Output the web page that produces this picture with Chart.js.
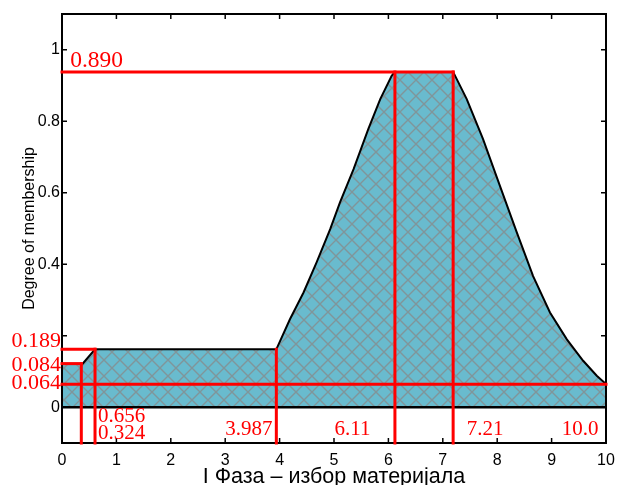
<!DOCTYPE html>
<html>
<head>
<meta charset="utf-8">
<script src="https://cdn.jsdelivr.net/npm/chart.js@4.4.1/dist/chart.umd.min.js"></script>
<style>
    html, body { margin: 0; padding: 0; background: #fff; }
    #wrap { width: 619px; height: 485px; }
</style>
</head>
<body>
<div id="wrap"><canvas id="fazaChart"></canvas></div>
<script>
// membership function of the first phase
const memX = [0, 0.38, 0.607, 3.94, 4.19, 4.44, 4.68, 4.93, 5.11, 5.36, 5.63, 5.85, 6.06, 6.12,
    7.19, 7.44, 7.74, 8.05, 8.36, 8.66, 8.97, 9.28, 9.58, 9.83, 10];
const memY = [0.122, 0.122, 0.162, 0.162, 0.246, 0.321, 0.405, 0.498, 0.573, 0.666, 0.778, 0.862, 0.927, 0.938,
    0.938, 0.862, 0.750, 0.619, 0.489, 0.367, 0.265, 0.190, 0.130, 0.088, 0.065];

// horizontal cut lines: level and where they stop
const cutLevels = [0.938, 0.162, 0.122, 0.064];
const cutEnds = [7.19, 0.607, 0.355, 10];

// vertical projections down to the axis
const projX = [0.355, 0.607, 3.94, 6.12, 7.19];
const projTop = [0.122, 0.162, 0.162, 0.938, 0.938];

const xTicks = [0, 1, 2, 3, 4, 5, 6, 7, 8, 9, 10];
const yTicks = [0, 0.2, 0.4, 0.6, 0.8, 1];
const yTickLabels = ['0', '', '0.4', '0.6', '0.8', '1'];

const Y_MIN = -0.1;
const Y_MAX = 1.1;

// red value labels (text, anchor in data units, alignment, font size)
const valueLabels = [
    { text: '0.890', x: 0.15, y: 0.951, align: 'left', size: 23.5 },
    { text: '0.189', x: -0.02, y: 0.168, align: 'right', size: 22 },
    { text: '0.084', x: -0.02, y: 0.101, align: 'right', size: 22 },
    { text: '0.064', x: -0.02, y: 0.050, align: 'right', size: 22 },
    { text: '0.656', x: 0.66, y: -0.042, align: 'left', size: 21 },
    { text: '0.324', x: 0.66, y: -0.0895, align: 'left', size: 21 },
    { text: '3.987', x: 3.87, y: -0.078, align: 'right', size: 21 },
    { text: '6.11', x: 5.67, y: -0.078, align: 'right', size: 21 },
    { text: '7.21', x: 7.44, y: -0.078, align: 'left', size: 21 },
    { text: '10.0', x: 9.86, y: -0.078, align: 'right', size: 21 }
];

const makeHatch = () => {
    const tile = document.createElement('canvas');
    tile.width = 16;
    tile.height = 16;
    const t = tile.getContext('2d');
    t.fillStyle = '#69bbce';
    t.fillRect(0, 0, 16, 16);
    t.strokeStyle = '#80959a';
    t.lineWidth = 1.4;
    t.beginPath();
    t.moveTo(-2, -2); t.lineTo(18, 18);
    t.moveTo(18, -2); t.lineTo(-2, 18);
    t.stroke();
    return t.createPattern(tile, 'repeat');
};

const redLine = (pts) => ({
    data: pts,
    showLine: true,
    borderColor: '#ff0000',
    borderWidth: 3,
    borderCapStyle: 'square',
    pointRadius: 0,
    fill: false,
    clip: false,
    order: 1
});

const datasets = [
    {
        data: memX.map((x, i) => ({ x: x, y: memY[i] })),
        showLine: true,
        borderColor: '#000',
        borderWidth: 2,
        backgroundColor: makeHatch(),
        fill: 'origin',
        pointRadius: 0,
        order: 3
    },
    {
        data: [{ x: 0, y: 0 }, { x: 10, y: 0 }],
        showLine: true,
        borderColor: '#000',
        borderWidth: 2.5,
        pointRadius: 0,
        order: 2
    }
];
cutLevels.forEach((lvl, i) => {
    datasets.push(redLine([{ x: 0, y: lvl }, { x: cutEnds[i], y: lvl }]));
});
projX.forEach((x, i) => {
    datasets.push(redLine([{ x: x, y: projTop[i] }, { x: x, y: Y_MIN }]));
});

const framePlugin = {
    id: 'frame',
    afterDatasetDraw(chart, args) {
        if (args.index !== 0) return;
        const ctx = chart.ctx;
        const { left, right, top, bottom } = chart.chartArea;
        const xs = chart.scales.x;
        const ys = chart.scales.y;
        const seg = (x1, y1, x2, y2) => {
            ctx.beginPath();
            ctx.moveTo(x1, y1);
            ctx.lineTo(x2, y2);
            ctx.stroke();
        };
        ctx.save();
        ctx.strokeStyle = '#000';
        ctx.lineWidth = 1.5;
        xTicks.forEach(v => {
            const px = xs.getPixelForValue(v);
            seg(px, bottom, px, bottom - 5);
            seg(px, top, px, top + 5);
        });
        yTicks.forEach(v => {
            const py = ys.getPixelForValue(v);
            seg(left, py, left + 5, py);
            seg(right, py, right - 5, py);
        });
        ctx.lineWidth = 2;
        ctx.strokeRect(left, top, right - left, bottom - top);
        ctx.restore();
    },
    afterDraw(chart) {
        const ctx = chart.ctx;
        const xs = chart.scales.x;
        const ys = chart.scales.y;
        ctx.save();
        ctx.fillStyle = '#ff0000';
        ctx.textBaseline = 'alphabetic';
        valueLabels.forEach(l => {
            ctx.font = l.size + 'px "Liberation Serif", "DejaVu Serif", serif';
            ctx.textAlign = l.align;
            ctx.fillText(l.text, xs.getPixelForValue(l.x), ys.getPixelForValue(l.y));
        });
        ctx.restore();
    }
};

const tickFont = { family: '"Liberation Sans", Arial, sans-serif', size: 16 };

new Chart(document.getElementById('fazaChart'), {
    type: 'scatter',
    data: { datasets: datasets },
    plugins: [framePlugin],
    options: {
        responsive: true,
        maintainAspectRatio: false,
        animation: false,
        layout: { padding: { top: 14, right: 13, left: 0, bottom: 0 } },
        plugins: {
            legend: { display: false },
            tooltip: { enabled: false }
        },
        scales: {
            x: {
                type: 'linear',
                min: 0,
                max: 10,
                grid: { display: false, drawTicks: false },
                border: { display: false },
                ticks: { stepSize: 1, color: '#000', font: tickFont, padding: 8, maxRotation: 0 },
                title: {
                    display: true,
                    text: 'I Фаза – избор материјала',
                    color: '#000',
                    font: { family: '"Liberation Sans", Arial, sans-serif', size: 21.5, lineHeight: 1 },
                    padding: { top: 0, bottom: -3 }
                },
                afterFit: (scale) => {
                    scale.height = 42;
                    scale.paddingLeft = 0;
                    scale.paddingRight = 0;
                }
            },
            y: {
                min: Y_MIN,
                max: Y_MAX,
                grid: { display: false, drawTicks: false },
                border: { display: false },
                afterBuildTicks: (scale) => {
                    scale.ticks = yTicks.map(v => ({ value: v }));
                },
                ticks: {
                    color: '#000',
                    font: tickFont,
                    padding: 2,
                    callback: (value) => {
                        const i = yTicks.indexOf(value);
                        return i >= 0 ? yTickLabels[i] : '';
                    }
                },
                title: {
                    display: true,
                    text: 'Degree of membership',
                    color: '#000',
                    font: { family: '"Liberation Sans", Arial, sans-serif', size: 16 },
                    padding: { top: 20, bottom: 0 }
                },
                afterFit: (scale) => {
                    scale.width = 62;
                    scale.paddingTop = 0;
                    scale.paddingBottom = 0;
                }
            }
        }
    }
});
</script>
</body>
</html>
